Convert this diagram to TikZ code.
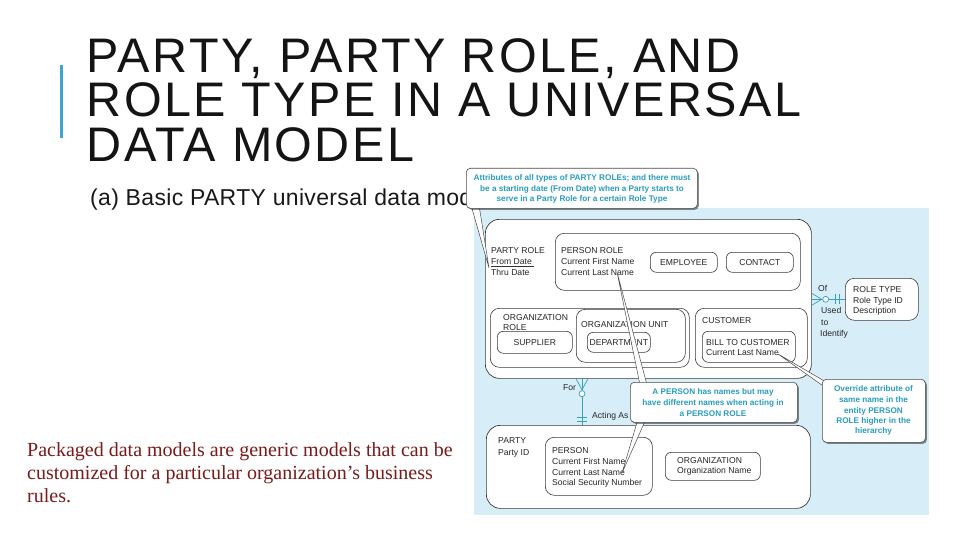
\documentclass[tikz,border=0pt]{standalone}
\usepackage{fontspec}
\setmainfont{Liberation Sans}
\newfontfamily\titlefam[LetterSpace=5.0]{Liberation Sans}
\newfontfamily\subfam[LetterSpace=1.5]{Liberation Sans}
\newfontfamily\serfam{Liberation Serif}
\usetikzlibrary{shadows,calc}
\definecolor{bgblue}{HTML}{D7EEF9}
\definecolor{barblue}{HTML}{3BA6D2}
\definecolor{callteal}{HTML}{2A9CC0}
\definecolor{relblue}{HTML}{3AA0C0}
\definecolor{bodyred}{HTML}{7A1A1A}
\definecolor{boxline}{HTML}{3A3A3A}
\newcommand\diagfont{\fontsize{8.6}{10}\selectfont}
\newcommand\callfont{\fontsize{8.2}{10}\selectfont\bfseries}
\tikzset{
  titletxt/.style={anchor=base west, inner sep=0, font=\titlefam\fontsize{48.5}{48}\selectfont, text=black!92},
  subtxt/.style={anchor=base west, inner sep=0, font=\subfam\fontsize{23}{25}\selectfont, text=black!90},
  bodytxt/.style={anchor=base west, inner sep=0, font=\serfam\fontsize{20}{23}\selectfont, text=bodyred},
  ent/.style={draw=boxline, line width=0.7pt, fill=white, rounded corners=14pt, inner sep=0, anchor=north west},
  subent/.style={draw=boxline, line width=0.6pt, fill=white, rounded corners=9pt, inner sep=0, anchor=north west},
  leaf/.style={draw=boxline, line width=0.6pt, fill=white, rounded corners=6pt, inner sep=0, anchor=north west},
  txt/.style={anchor=base west, inner sep=0, font=\diagfont, text=black!85},
  ctxt/.style={anchor=base, inner sep=0, font=\diagfont, text=black!85},
  rel/.style={draw=relblue, line width=0.7pt},
  call/.style={draw=black!70, line width=0.6pt, fill=white, rounded corners=4pt, inner sep=0, anchor=north west,
    drop shadow={shadow xshift=1.5pt, shadow yshift=-1.5pt, fill=black, opacity=0.45}},
  calltxt/.style={anchor=base, inner sep=0, font=\callfont, text=callteal},
  pointer/.style={draw=black!70, line width=0.5pt, fill=white},
}
\begin{document}
\begin{tikzpicture}[x=1pt,y=-1pt]
\useasboundingbox (0,0) rectangle (960,540);
\fill[white] (0,0) rectangle (960,540);
% accent bar
\fill[barblue] (60,65) rectangle (63,138);
% title
\node[titletxt] (t1) at (86.5,73) {PARTY, PARTY ROLE, AND};
\node[titletxt] (t2) at (86.5,117) {ROLE TYPE IN A UNIVERSAL};
\node[titletxt] (t3) at (86.5,161) {DATA MODEL};
\node[subtxt] (sub) at (90,205) {(a) Basic PARTY universal data model};
% body text
\node[bodytxt] (b1) at (27,456) {Packaged data models are generic models that can be};
\node[bodytxt] (b2) at (27,479) {customized for a particular organization’s business};
\node[bodytxt] (b3) at (27,502) {rules.};
% diagram background
\fill[bgblue] (474,208) rectangle (929,515);
% PARTY ROLE
\node[ent, minimum width=326pt, minimum height=159pt] (prole) at (485,219) {};
\node[subent, minimum width=245pt, minimum height=57pt] (personrole) at (555,233) {};
\node[leaf, minimum width=67pt, minimum height=20pt] (employee) at (650,252) {};
\node[leaf, minimum width=67pt, minimum height=20pt] (contact) at (726,252) {};
\node[subent, minimum width=199pt, minimum height=59pt] (orgrole) at (490,308) {};
\node[leaf, minimum width=75pt, minimum height=22pt] (supplier) at (497,331) {};
\node[subent, minimum width=109pt, minimum height=53pt] (orgunit) at (576,309) {};
\node[leaf, minimum width=63pt, minimum height=20pt] (department) at (587,332) {};
\node[subent, minimum width=112pt, minimum height=59pt] (customer) at (695,308) {};
\node[leaf, minimum width=93pt, minimum height=31pt] (billto) at (702,331) {};
% ROLE TYPE
\node[subent, minimum width=73pt, minimum height=42pt] (roletype) at (845,278) {};
% PARTY
\node[ent, minimum width=324pt, minimum height=83pt] (party) at (486,425) {};
\node[subent, minimum width=107pt, minimum height=58pt] (person) at (545,437) {};
\node[leaf, minimum width=95pt, minimum height=28pt] (org) at (665,452) {};
% texts
\node[txt] (prt1) at (491,253) {PARTY ROLE};
\node[txt] (prt2) at (491,264) {From Date};
\node[txt] (prt3) at (491,275) {Thru Date};
\draw[black!80, line width=0.6pt] (prt2.base west) ++(0,2.5) -- ++(43,0);
\node[txt] (pr1) at (561,253) {PERSON ROLE};
\node[txt] (pr2) at (561,264) {Current First Name};
\node[txt] (pr3) at (561,275) {Current Last Name};
\node[ctxt] at ($(employee.center)+(0,3)$) {EMPLOYEE};
\node[ctxt] at ($(contact.center)+(0,3)$) {CONTACT};
\node[txt] (or1) at (503,320) {ORGANIZATION};
\node[txt] (or2) at (503,330) {ROLE};
\node[ctxt] at ($(supplier.center)+(0,3)$) {SUPPLIER};
\node[txt] (ou1) at (581,327) {ORGANIZATION UNIT};
\node[ctxt] at ($(department.center)+(0,3)$) {DEPARTMENT};
\node[txt] (cu1) at (702,323) {CUSTOMER};
\node[txt] (bt1) at (706,345) {BILL TO CUSTOMER};
\node[txt] (bt2) at (706,355) {Current Last Name};
\node[txt] (rt1) at (853,292) {ROLE TYPE};
\node[txt] (rt2) at (853,303) {Role Type ID};
\node[txt] (rt3) at (853,313) {Description};
\node[txt] (pa1) at (498,443) {PARTY};
\node[txt] (pa2) at (498,455) {Party ID};
\node[txt] (pe1) at (552,453) {PERSON};
\node[txt] (pe2) at (552,464.5) {Current First Name};
\node[txt] (pe3) at (552,475) {Current Last Name};
\node[txt] (pe4) at (552,485.5) {Social Security Number};
\node[txt] (og1) at (677,463) {ORGANIZATION};
\node[txt] (og2) at (677,473.5) {Organization Name};
% relationship Of / Used to Identify
\coordinate (of0) at (prole.east |- roletype.west);
\draw[rel] (of0) -- (roletype.west);
\draw[rel] ($(of0)+(0,-6)$) -- ($(of0)+(10,0)$) -- ($(of0)+(0,6)$);
\draw[rel, fill=white] ($(of0)+(14,0)$) circle (3);
\draw[rel] ($(of0)+(24,-5)$) -- ($(of0)+(24,5)$);
\draw[rel] ($(of0)+(28,-5)$) -- ($(of0)+(28,5)$);
\node[txt] (lof) at (818,291) {Of};
\node[txt] (lused) at (821,313) {Used};
\node[txt] (lto) at (821,325) {to};
\node[txt] (lid) at (820,336) {Identify};
% relationship For / Acting As
\coordinate (fa0) at ($(prole.south west)+(97,0)$);
\coordinate (fa1) at ($(party.north west)+(96,0)$);
\draw[rel] (fa0) -- (fa1);
\draw[rel] ($(fa0)+(-6,0)$) -- ($(fa0)+(0,11)$) -- ($(fa0)+(6,0)$);
\draw[rel, fill=white] ($(fa0)+(0,15)$) circle (3);
\draw[rel] ($(fa1)+(-5,-8)$) -- ($(fa1)+(5,-8)$);
\draw[rel] ($(fa1)+(-5,-4)$) -- ($(fa1)+(5,-4)$);
\node[txt] (lfor) at (563,390) {For};
\node[txt] (lact) at (592,418) {Acting As};
% callout pointers
\coordinate (tipA) at (489,268);
\coordinate (tipB) at (617,272);
\coordinate (tipC) at (622,473);
\coordinate (tipD) at (778,354);
\draw[pointer] (tipA) -- (471,205) -- (479,205) -- cycle;
\draw[pointer] (tipB) -- (640,385) -- (647,385) -- cycle;
\draw[pointer] (tipC) -- (638,419) -- (646,419) -- cycle;
\draw[pointer] (tipD) -- (826,382) -- (826,388) -- cycle;
% callouts
\node[call, minimum width=231pt, minimum height=40pt] (c1) at (466,168) {};
\node[calltxt] at (582,181) {Attributes of all types of PARTY ROLEs; and there must};
\node[calltxt] at (582,191) {be a starting date (From Date) when a Party starts to};
\node[calltxt] at (582,201) {serve in a Party Role for a certain Role Type};
\node[call, minimum width=167pt, minimum height=40pt] (c2) at (630,382) {};
\node[calltxt] at (713,394) {A PERSON has names but may};
\node[calltxt] at (713,405.5) {have different names when acting in};
\node[calltxt] at (713,416) {a PERSON ROLE};
\node[call, minimum width=103pt, minimum height=63pt] (c3) at (822,379) {};
\node[calltxt] at (873.5,391) {Override attribute of};
\node[calltxt] at (873.5,402) {same name in the};
\node[calltxt] at (873.5,413) {entity PERSON};
\node[calltxt] at (873.5,423) {ROLE higher in the};
\node[calltxt] at (873.5,433) {hierarchy};
\end{tikzpicture}
\end{document}
